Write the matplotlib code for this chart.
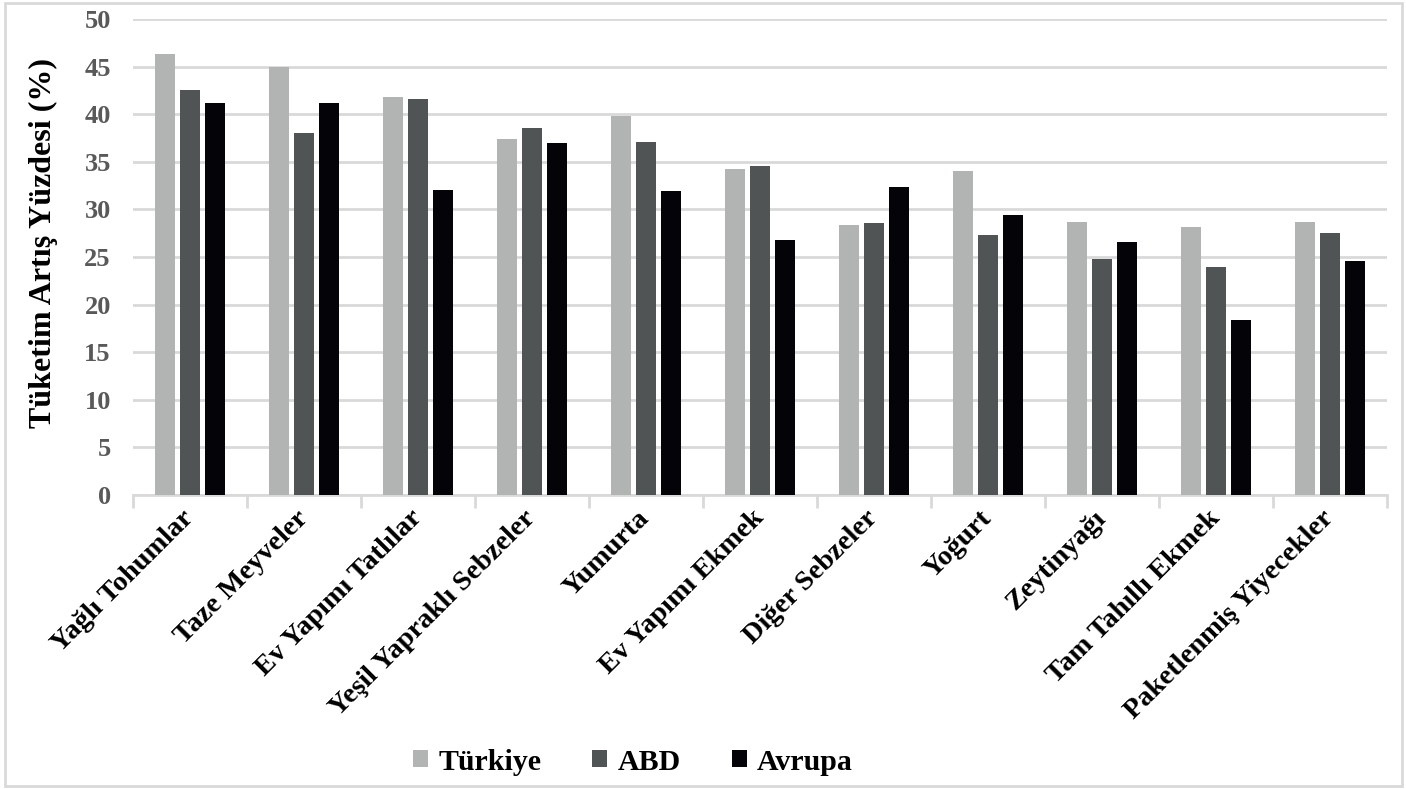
import matplotlib
matplotlib.use("Agg")
import matplotlib.pyplot as plt
import numpy as np
from matplotlib.patches import Rectangle

categories = ["Yağlı Tohumlar", "Taze Meyveler", "Ev Yapımı Tatlılar", "Yeşil Yapraklı Sebzeler",
              "Yumurta", "Ev Yapımı Ekmek", "Diğer Sebzeler", "Yoğurt", "Zeytinyağı",
              "Tam Tahıllı Ekmek", "Paketlenmiş Yiyecekler"]
turkiye = [46.3, 45.0, 41.8, 37.4, 39.8, 34.2, 28.4, 34.0, 28.7, 28.1, 28.7]
abd = [42.5, 38.0, 41.6, 38.5, 37.1, 34.6, 28.6, 27.3, 24.8, 24.0, 27.5]
avrupa = [41.2, 41.2, 32.0, 37.0, 31.9, 26.8, 32.4, 29.4, 26.6, 18.4, 24.6]
series = ["Türkiye", "ABD", "Avrupa"]
colors = ["#b2b4b4", "#515455", "#040408"]
yticks = [0, 5, 10, 15, 20, 25, 30, 35, 40, 45, 50]

plt.rcParams['font.family'] = ['Liberation Serif', 'DejaVu Serif']
plt.rcParams['font.weight'] = 'bold'

fig = plt.figure(figsize=(14.06, 7.89), dpi=100)
ax = fig.add_axes([133/1406, 1-495/789, (1387-133)/1406, (495-19)/789])

x = np.arange(len(categories))
w = 0.175
step = 0.22
for i, (vals, name, c) in enumerate(zip([turkiye, abd, avrupa], series, colors)):
    ax.bar(x + (i-1)*step, vals, width=w, color=c, label=name, zorder=3)

ax.set_xlim(-0.5, len(categories)-0.5)
ax.set_ylim(0, 50)
ax.set_yticks(yticks)
ax.set_yticklabels([str(v) for v in yticks], fontsize=19, fontweight='bold', color='#595959')
ax.tick_params(axis='y', length=0, pad=16)
ax.yaxis.grid(True, color='#d9d9d9', linewidth=2, zorder=0)
ax.set_axisbelow(True)

ax.set_xticks(x)
ax.set_xticklabels(categories, rotation=45, ha='right', va='center', rotation_mode='anchor',
                   fontsize=20.5, fontweight='bold')
ax.tick_params(axis='x', which='major', length=0, pad=14)
ax.set_xticks(np.arange(-0.5, len(categories)), minor=True)
ax.tick_params(axis='x', which='minor', length=9, width=2, color='#d9d9d9')

for s in ['top', 'right', 'left']:
    ax.spines[s].set_visible(False)
ax.spines['bottom'].set_color('#d9d9d9')
ax.spines['bottom'].set_linewidth(2)

ax.set_ylabel("Tüketim Artış Yüzdesi (%)", fontsize=23, fontweight='bold')
ax.yaxis.set_label_coords(-(133-58)/1254, (495-243)/476)

leg = fig.legend(loc='center', bbox_to_anchor=(633/1406, 1-762/789), ncol=3, frameon=False,
                 handlelength=0.5, handleheight=0.5, columnspacing=1.7, handletextpad=0.35,
                 prop={'weight': 'bold', 'size': 21.5})

fig.patches.append(Rectangle((5/1406, 3/789), 1397/1406, 783/789, transform=fig.transFigure,
                             fill=False, edgecolor='#d9d9d9', linewidth=2))

fig.savefig("out.png", dpi=100)
